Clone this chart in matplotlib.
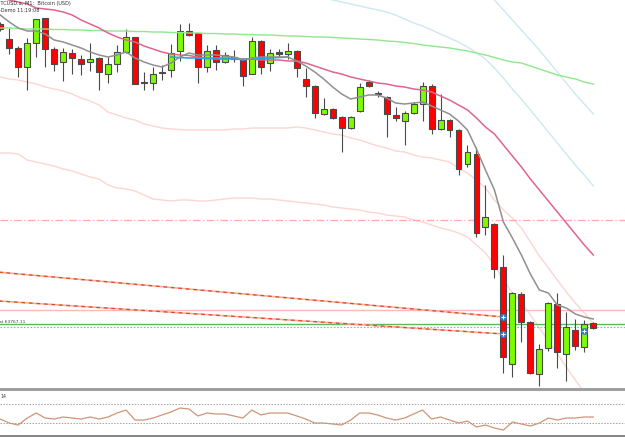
import numpy as np
import matplotlib.pyplot as plt
from matplotlib.patches import Rectangle

# BTCUSD M1 candles
opens = [66760, 66610, 66520, 66330, 66570, 66820, 66510, 66380, 66470, 66410,
         66380, 66420, 66260, 66360, 66480, 66630, 66170, 66170, 66270, 66300,
         66490, 66690, 66670, 66330, 66500, 66380, 66410, 66400, 66260, 66590,
         66370, 66480, 66460, 66490, 66210, 66140, 65860, 65910, 65830, 65720,
         65890, 66180, 66060, 66030, 65850, 65790, 65870, 65960, 66140, 65710,
         65800, 65700, 65360, 65460, 64730, 64760, 64330, 63360, 64060, 63780,
         63260, 63520, 63960, 63460, 63700, 63530, 63770]
highs = [66780, 66720, 66540, 66620, 66810, 66820, 66530, 66520, 66510, 66450,
         66570, 66430, 66430, 66550, 66710, 66630, 66280, 66330, 66350, 66560,
         66760, 66770, 66670, 66550, 66550, 66480, 66500, 66420, 66630, 66600,
         66510, 66510, 66570, 66500, 66320, 66150, 66020, 65920, 65840, 65840,
         66170, 66200, 66090, 66040, 65930, 65890, 65980, 66180, 66160, 66060,
         65810, 65710, 65550, 65530, 65150, 64770, 64450, 64080, 64080, 63790,
         63560, 63980, 64070, 63880, 63810, 63800, 63780]
lows = [66690, 66460, 66230, 66100, 66430, 66330, 66290, 66190, 66260, 66250,
        66290, 66100, 66170, 66280, 66470, 66160, 66100, 66100, 66200, 66230,
        66390, 66640, 66170, 66280, 66300, 66370, 66380, 66140, 66260, 66260,
        66290, 66430, 66410, 66230, 66030, 65820, 65850, 65810, 65480, 65710,
        65880, 66130, 66030, 65630, 65790, 65550, 65860, 65790, 65660, 65700,
        65630, 65250, 65330, 64630, 64650, 64220, 63270, 63230, 63580, 63260,
        63140, 63490, 63320, 63190, 63500, 63480, 63710]
closes = [66710, 66520, 66330, 66570, 66810, 66510, 66360, 66480, 66420, 66360,
          66410, 66280, 66360, 66480, 66630, 66160, 66180, 66260, 66280, 66470,
          66690, 66650, 66330, 66490, 66380, 66450, 66430, 66240, 66590, 66330,
          66470, 66460, 66490, 66320, 66140, 65870, 65910, 65820, 65720, 65830,
          66130, 66140, 66060, 65860, 65820, 65870, 65960, 66140, 65710, 65800,
          65700, 65310, 65480, 64670, 64830, 64310, 63430, 64070, 63780, 63270,
          63510, 63970, 63480, 63730, 63540, 63760, 63720]

# moving averages
ma_fast = [66850, 66780, 66720, 66690, 66690, 66660, 66600, 66580, 66550, 66520,
           66480, 66450, 66430, 66450, 66480, 66420, 66380, 66350, 66330, 66370,
           66430, 66470, 66450, 66450, 66450, 66440, 66430, 66400, 66420, 66430,
           66430, 66430, 66430, 66390, 66340, 66280, 66210, 66130, 66060, 66010,
           66030, 66050, 66050, 66020, 65970, 65960, 65970, 65980, 65940, 65900,
           65860, 65790, 65700, 65510, 65300, 65100, 64780, 64620, 64450, 64260,
           64100, 64070, 63950, 63920, 63860, 63830, 63810]
ma_mid = [67020, 67000, 66980, 66960, 66920, 66910, 66900, 66880, 66850, 66800,
          66760, 66720, 66670, 66630, 66600, 66580, 66540, 66510, 66480, 66460,
          66450, 66445, 66430, 66420, 66420, 66420, 66420, 66410, 66410, 66400,
          66400, 66400, 66390, 66390, 66370, 66340, 66310, 66280, 66260, 66230,
          66210, 66190, 66170, 66160, 66140, 66130, 66110, 66100, 66080, 66040,
          66000, 65950, 65900, 65820, 65730, 65660, 65550, 65440, 65330, 65210,
          65100, 64990, 64880, 64770, 64660, 64550, 64450]
ma_slow = [66720, 66720, 66715, 66710, 66710, 66710, 66705, 66705, 66700, 66700,
           66695, 66695, 66690, 66690, 66690, 66685, 66685, 66680, 66680, 66675,
           66675, 66670, 66670, 66665, 66665, 66660, 66660, 66655, 66655, 66650,
           66650, 66645, 66640, 66640, 66635, 66630, 66630, 66625, 66620, 66615,
           66610, 66605, 66600, 66590, 66585, 66575, 66565, 66550, 66540, 66530,
           66520, 66505, 66490, 66470, 66450, 66425, 66400, 66380, 66370, 66340,
           66310, 66280, 66250, 66230, 66210, 66180, 66160]
# short blue segment, starts at bar 19
ma_blue = [66430, 66425, 66420, 66420, 66415, 66410, 66410, 66410, 66405, 66410,
           66415, 66420, 66425, 66430]

# envelope bands (upper ones light blue, lower ones faint pink)
env_up1 = [67020, 67000, 66980, 66960, 66940, 66920, 66900, 66880, 66850, 66810,
           66770, 66740, 66700, 66660, 66620, 66580, 66530, 66470, 66410, 66320,
           66220, 66110, 66010, 65900, 65790, 65680, 65570, 65460, 65350, 65250,
           65140]  # from bar 36
env_up2 = [67100, 67000, 66900, 66800, 66700, 66600, 66500, 66390, 66280, 66170,
           66060, 65960, 65860]  # from bar 54
env_lo1 = [66230, 66210, 66200, 66180, 66160, 66130, 66110, 66090, 66060, 66020,
           65990, 65950, 65880, 65850, 65820, 65800, 65760, 65740, 65720, 65710,
           65705, 65700, 65700, 65700, 65700, 65700, 65710, 65710, 65720, 65720,
           65720, 65720, 65720, 65730, 65720, 65700, 65680, 65660, 65650, 65620,
           65600, 65570, 65540, 65520, 65490, 65480, 65450, 65430, 65420, 65400,
           65380, 65320, 65270, 65200, 65120, 65000, 64900, 64820, 64720, 64580,
           64440, 64320, 64200, 64080, 63970, 63870, 63770]
env_lo2 = [65470, 65470, 65460, 65400, 65380, 65360, 65340, 65310, 65290, 65260,
           65230, 65210, 65150, 65120, 65110, 65090, 65050, 65010, 65000, 64990,
           65000, 65000, 64990, 64990, 65000, 65010, 65020, 65020, 65020, 65010,
           65010, 65000, 64990, 64980, 64970, 64960, 64950, 64930, 64920, 64910,
           64900, 64880, 64870, 64850, 64840, 64830, 64800, 64780, 64750, 64720,
           64700, 64670, 64630, 64550, 64470, 64350, 64200, 64070, 63980, 63850,
           63720, 63590, 63460, 63330, 63200, 63080, 62960]

# RSI(14)
rsi = [38.9, 30.5, 26.3, 41.0, 51.6, 41.0, 38.9, 43.2, 41.0, 38.9,
       43.2, 38.9, 43.2, 51.6, 57.9, 36.8, 36.8, 41.0, 47.4, 53.7,
       62.1, 60.0, 45.3, 51.6, 49.5, 49.5, 45.3, 41.0, 57.9, 47.4,
       51.6, 51.6, 51.6, 45.3, 38.9, 30.5, 30.5, 28.4, 26.3, 36.8,
       51.6, 51.6, 47.4, 41.0, 36.8, 41.0, 49.5, 57.9, 38.9, 43.2,
       36.8, 30.5, 34.7, 22.1, 26.3, 20.0, 15.8, 32.6, 28.4, 24.2,
       30.5, 41.0, 36.8, 41.0, 41.0, 43.2, 43.2]

# horizontal levels and trend lines
level_dashdot = 64805
level_pink = 63900
level_bid = 63760
level_ask = 63730
trend1 = [(-1, 64285), (56, 63830)]
trend2 = [(-1, 63995), (56, 63660)]
arrow_marks = [(56, 63830), (56, 63660), (65, 63690)]

fig = plt.figure(figsize=(6.25, 4.37), dpi=100)
fig.patch.set_facecolor('white')
ax = fig.add_axes([0, 49 / 437, 1, 388 / 437])
rax = fig.add_axes([0, 1 / 437, 1, 45 / 437])

x = np.arange(len(opens))

# bands and horizontal lines (behind)
ax.plot(x, env_lo1, color='#fcd6d0', lw=1.0, zorder=1)
ax.plot(x, env_lo2, color='#fcd6d0', lw=1.0, zorder=1)
ax.plot(x[36:], env_up1, color='#cde8f2', lw=1.0, zorder=1)
ax.plot(x[54:], env_up2, color='#cde8f2', lw=1.0, zorder=1)
ax.axhline(level_dashdot, color='#ffa8a8', lw=0.9, ls=(0, (6, 2, 1, 2)), zorder=1)
ax.axhline(level_pink, color='#ffb8b8', lw=1.0, zorder=1)
ax.axhline(level_bid, color='#5cb85c', lw=1.0, zorder=1)
ax.axhline(level_ask, color='#80b8c8', lw=0.8, ls=(0, (1.5, 1.5)), zorder=1)

for t in (trend1, trend2):
    tx = [p[0] for p in t]
    ty = [p[1] for p in t]
    ax.plot(tx, ty, color='#f6b0a0', lw=1.2, zorder=2)
    ax.plot(tx, ty, color='#e04a20', lw=0.9, ls=(0, (3, 3)), zorder=2)

# candles
up = np.array(closes) >= np.array(opens)
ax.vlines(x, lows, highs, color='#4a4a4a', lw=0.8, zorder=3)
bottoms = np.minimum(opens, closes)
heights = np.abs(np.array(closes) - np.array(opens))
colors = ['#7cfc00' if u else '#ff0000' for u in up]
ax.bar(x, np.maximum(heights, 10), bottom=bottoms, width=0.66, color=colors,
       edgecolor='#4a4a4a', linewidth=0.8, zorder=4)

# moving averages on top
ax.plot(x, ma_slow, color='#8ee88e', lw=1.0, zorder=5)
ax.plot(x, ma_mid, color='#e0648e', lw=1.1, zorder=5)
ax.plot(x[19:33], ma_blue, color='#22a8e8', lw=1.2, zorder=5)
ax.plot(x, ma_fast, color='#909090', lw=1.1, zorder=6)

for mx, my in arrow_marks:
    ax.plot(mx, my, 'o', color='#3d7cc9', ms=4, zorder=7)
    ax.plot(mx, my, '+', color='white', ms=2.5, mew=0.7, zorder=8)

ax.set_xlim(-0.03, 69.53)
ax.set_ylim(63120, 67000)
ax.axis('off')

# RSI window
rax.plot(x, rsi, color='#cf9578', lw=0.9)
rax.axhline(70, color='#a0a0a0', lw=0.7, ls=(0, (1.5, 1.5)))
rax.axhline(30, color='#a0a0a0', lw=0.7, ls=(0, (1.5, 1.5)))
rax.set_xlim(-0.03, 69.53)
rax.set_ylim(3.2, 97.9)
rax.axis('off')

# separator and bottom border
fig.add_artist(Rectangle((0, 1 - 391 / 437), 1, 3 / 437, transform=fig.transFigure,
                         color='#a0a0a0', lw=0))
fig.add_artist(Rectangle((0, 0), 1, 2 / 437, transform=fig.transFigure,
                         color='#888888', lw=0))

# texts
fig.text(-3 / 625, 1 - 3 / 437, 'BTCUSD.a, M1:  Bitcoin (USD)', fontsize=3.6,
         color='#303030', va='center', ha='left')
fig.text(-1 / 625, 1 - 11 / 437, '-Demo 11:19:08', fontsize=3.6,
         color='#303030', va='center', ha='left')
fig.text(-1 / 625, 1 - 322 / 437, 'at 63767.11', fontsize=3.2,
         color='#404040', va='center', ha='left')
fig.text(0, 1 - 397 / 437, '14', fontsize=3.4, color='#404040',
         va='center', ha='left')

fig.savefig('out.png', dpi=100)
